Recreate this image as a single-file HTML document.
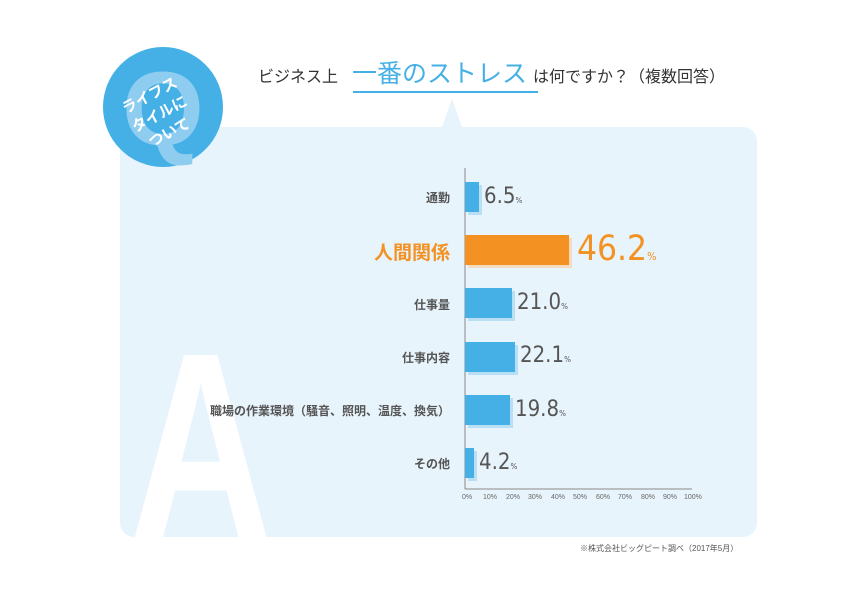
<!DOCTYPE html>
<html><head><meta charset="utf-8"><style>
body{margin:0;width:842px;height:595px;background:#fff;position:relative;overflow:hidden;font-family:"Liberation Sans","Noto Sans CJK JP",sans-serif}
.abs{position:absolute}
.panel{left:120px;top:127px;width:637px;height:410px;background:#e8f4fc;border-radius:14px}
.lbl{position:absolute;right:392px;font-size:12px;color:#555;font-weight:bold;white-space:nowrap;text-align:right}
.bar{position:absolute;left:465px;height:30px;background:#45b0e6;box-shadow:3px 3px 0 #b9dff5}
.val{position:absolute;font-size:22px;color:#555;font-family:"DejaVu Sans Condensed","Liberation Sans",sans-serif}
.val small{font-size:8px}
.tick{position:absolute;top:494px;font-size:7px;color:#666}
</style></head><body>
<div class="abs panel"></div>
<svg class="abs" style="left:0;top:0" width="842" height="595">
<polygon points="442,127 452,99 462,127" fill="#e8f4fc"/>
<text x="0" y="0" transform="translate(130,537) scale(0.8,1.08)" font-size="245" font-family="Liberation Sans" font-weight="bold" fill="#fff">A</text>
<circle cx="163" cy="107" r="60" fill="#45b0e6"/>
<text x="163" y="145" text-anchor="middle" font-size="105" font-family="Liberation Sans" font-weight="bold" fill="#8fcdf0">Q</text>
<g transform="rotate(-28 160 115)" fill="#fff" font-size="15" font-weight="bold" text-anchor="middle" font-family="Noto Sans CJK JP">
<text x="160" y="98">ライフス</text><text x="160" y="119">タイルに</text><text x="160" y="140">ついて</text></g>
<line x1="353" y1="92" x2="538" y2="92" stroke="#45b0e6" stroke-width="2"/>
<line x1="465" y1="168" x2="465" y2="489" stroke="#888" stroke-width="1"/>
<line x1="465" y1="489" x2="692" y2="489" stroke="#888" stroke-width="1"/>
</svg>
<div class="abs" style="left:258px;top:56px;font-size:16px;color:#333;white-space:nowrap;line-height:36px">ビジネス上<span style="font-size:25px;color:#45b0e6;margin:0 6px 0 14px">一番のストレス</span>は何ですか？（複数回答）</div>

<div class="lbl" style="top:189px">通勤</div>
<div class="lbl" style="top:238px;font-size:19px;color:#f39223">人間関係</div>
<div class="lbl" style="top:296px">仕事量</div>
<div class="lbl" style="top:349px">仕事内容</div>
<div class="lbl" style="top:402px">職場の作業環境（騒音、照明、温度、換気）</div>
<div class="lbl" style="top:455px">その他</div>

<div class="bar" style="top:182px;width:14px"></div>
<div class="bar" style="top:235px;width:104px;background:#f39223;box-shadow:3px 3px 0 #f3dcc0"></div>
<div class="bar" style="top:288px;width:47px"></div>
<div class="bar" style="top:342px;width:50px"></div>
<div class="bar" style="top:395px;width:45px"></div>
<div class="bar" style="top:448px;width:9px"></div>

<div class="val" style="left:484px;top:184px">6.5<small>%</small></div>
<div class="val" style="left:577px;top:229px;font-size:35px;color:#f39223">46.2<small style="font-size:11px">%</small></div>
<div class="val" style="left:517px;top:290px">21.0<small>%</small></div>
<div class="val" style="left:520px;top:343px">22.1<small>%</small></div>
<div class="val" style="left:515px;top:397px">19.8<small>%</small></div>
<div class="val" style="left:479px;top:450px">4.2<small>%</small></div>

<div class="tick" style="left:462px">0%</div><div class="tick" style="left:483px">10%</div><div class="tick" style="left:506px">20%</div><div class="tick" style="left:528px">30%</div><div class="tick" style="left:551px">40%</div><div class="tick" style="left:573px">50%</div><div class="tick" style="left:596px">60%</div><div class="tick" style="left:618px">70%</div><div class="tick" style="left:641px">80%</div><div class="tick" style="left:663px">90%</div><div class="tick" style="left:684px">100%</div>
<div class="abs" style="left:580px;top:543px;font-size:8px;color:#555">※株式会社ビッグピート調べ（2017年5月）</div>
</body></html>
